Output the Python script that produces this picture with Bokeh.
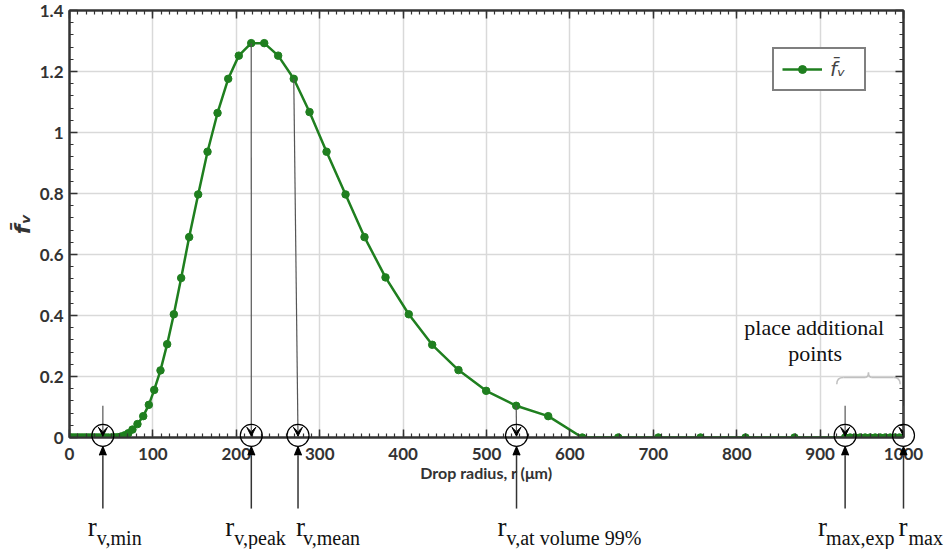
import numpy as np
from bokeh.plotting import figure
from bokeh.core.properties import value
from bokeh.models import (Label, Arrow, VeeHead, SingleIntervalTicker,
                          LinearAxis, NumeralTickFormatter, Legend, LegendItem, Range1d,
                          CustomJSTickFormatter)
from bokeh.embed import file_html
from bokeh.resources import INLINE

# ---------------- data ----------------
radius = [0.5, 2.5, 5, 7.5, 10, 12.5, 15, 17.5, 20, 22.5, 25, 27.5, 30, 32.5, 35, 37.5,
          40.5, 43.5, 46.5, 50, 53.5, 57.5, 61.5, 66, 70.5, 75.5, 81.5, 88.4, 95.1, 101.6,
          109.1, 117.1, 125.1, 133.9, 143.5, 154.3, 165.5, 177.5, 190.3, 203.0, 217.9,
          233.5, 250.2, 268.9, 287.8, 308.2, 331.0, 353.7, 378.9, 406.8, 434.9, 466.4,
          499.6, 535.6, 574.0, 614.8, 658, 706, 756.6, 810.6, 869.3,
          930, 936, 942, 948, 954, 960, 966, 972, 978, 984, 990, 995, 1000]
fv = [0, 0, 0, 0, 0, 0, 0, 0, 0, 0, 0, 0, 0, 0, 0, 0,
      0, 0, 0, 0, 0.0005, 0.001, 0.003, 0.007, 0.014, 0.026, 0.044, 0.070, 0.107, 0.156,
      0.220, 0.306, 0.404, 0.523, 0.657, 0.797, 0.937, 1.064, 1.176, 1.252, 1.293,
      1.293, 1.252, 1.176, 1.067, 0.937, 0.797, 0.657, 0.525, 0.404, 0.304, 0.221,
      0.153, 0.104, 0.070, 0, 0, 0, 0, 0, 0,
      0, 0, 0, 0, 0, 0, 0, 0, 0, 0, 0, 0, 0]

# characteristic radii marked on the axis
marker_sub = ["v,min", "v,peak", "v,mean", "v,at volume 99%", "max,exp", "max"]
marker_r = [40, 218, 274, 536, 930, 1000]
drop_from_r = [40, 217.9, 268.9, 535.6, 930, 1000]
drop_from_f = [0.104, 1.293, 1.176, 0.104, 0.104, 0.104]
r_dx = [-15, -26, -2, -19, -27, -5]
sub_dx = [-6, -17, 5, -10, -19, 5]

note_lines = ["place additional", "points"]

GREEN = "#1f7f1f"
AX = "#333333"
N = len(marker_r)

p = figure(frame_width=834, frame_height=427, output_backend="svg", toolbar_location=None,
           x_range=Range1d(0, 1000), y_range=Range1d(0, 1.4 + 1e-9),
           min_border_left=69, min_border_right=42, min_border_top=10, min_border_bottom=112,
           background_fill_color="white", border_fill_color="white")
p.outline_line_color = AX
p.outline_line_width = 2

xt = SingleIntervalTicker(interval=100, num_minor_ticks=10)
yt = SingleIntervalTicker(interval=0.2, num_minor_ticks=5)
p.xaxis.ticker = xt
p.yaxis.ticker = yt
p.yaxis.formatter = NumeralTickFormatter(format="0.[0]")
p.xgrid.ticker = xt
p.ygrid.ticker = yt
for g in (p.xgrid, p.ygrid):
    g.grid_line_color = "#d9d9d9"
    g.grid_line_width = 1.5

def style_axis(ax):
    ax.axis_line_color = AX
    ax.axis_line_width = 2
    ax.major_tick_in = 8
    ax.major_tick_out = 0
    ax.minor_tick_in = 4
    ax.minor_tick_out = 0
    ax.major_tick_line_color = AX
    ax.minor_tick_line_color = AX
    ax.major_tick_line_width = 1.5
    ax.minor_tick_line_width = 1.2

for ax in (p.xaxis[0], p.yaxis[0]):
    style_axis(ax)
    ax.major_label_text_font = "Lato"
    ax.major_label_text_font_style = "bold"
    ax.major_label_text_font_size = "17px"
    ax.major_label_text_color = "#333333"

p.xaxis.major_label_standoff = 10
p.yaxis.major_label_standoff = 6
p.xaxis.axis_label = "Drop radius, r (\u03bcm)"
p.xaxis.axis_label_text_font = "Lato"
p.xaxis.axis_label_text_font_style = "bold"
p.xaxis.axis_label_text_font_size = "16px"
p.xaxis.axis_label_standoff = 0
p.xaxis.axis_label_text_color = "#333333"
p.yaxis.axis_label = "f\u0304\u1d65"
p.yaxis.axis_label_text_font = "DejaVu Sans"
p.yaxis.axis_label_text_font_style = "bold italic"
p.yaxis.axis_label_text_font_size = "22px"
p.yaxis.axis_label_standoff = 2
p.yaxis.axis_label_text_color = "#333333"

blank = CustomJSTickFormatter(code="return ''")
top_ax = LinearAxis(ticker=xt, formatter=blank)
right_ax = LinearAxis(ticker=yt, formatter=blank)
for ax in (top_ax, right_ax):
    style_axis(ax)
    ax.major_label_standoff = 0
p.add_layout(top_ax, "above")
p.add_layout(right_ax, "right")

# ---------------- data series ----------------
ln = p.line(radius, fv, line_color=GREEN, line_width=2.5)
sc = p.scatter(radius, fv, size=7.5, fill_color=GREEN, line_color=GREEN)

legend = Legend(items=[LegendItem(label="f\u0304\u1d65", renderers=[ln, sc])],
                location="top_right", margin=37, padding=8, spacing=0,
                glyph_width=40, glyph_height=20, label_standoff=8, label_width=26,
                border_line_color="black", border_line_width=2,
                label_text_font="DejaVu Sans", label_text_font_style="italic",
                label_text_font_size="20px", background_fill_alpha=1)
p.add_layout(legend)

# ---------------- annotations ----------------
# lines from above into the circles
for i, r0 in enumerate(marker_r):
    p.add_layout(Arrow(x_start=drop_from_r[i], y_start=drop_from_f[i], x_end=r0, y_end=0.004,
                       line_color="#555555", line_width=1.2,
                       end=VeeHead(size=9, fill_color="black", line_color="black")))

# circles on the axis (drawn unclipped at overlay level)
p.scatter(x=marker_r, y=[0.007] * N, marker="circle", size=22, fill_alpha=0,
          line_color="black", line_width=1.2, level="overlay")

# arrows from the labels below the axis
tip, base, hw = -0.030, -0.058, 4.2
p.segment(x0=marker_r, y0=[-0.233] * N, x1=marker_r, y1=[base] * N,
          line_color="#333333", line_width=1.5, level="overlay")
for r0 in marker_r:
    p.varea(x=[r0 - hw, r0, r0 + hw], y1=[base] * 3, y2=[base, tip, base],
            fill_color="black", level="overlay")
p.segment(x0=[r - hw for r in marker_r] + [r + hw for r in marker_r], y0=[base] * (2 * N),
          x1=marker_r * 2, y1=[tip] * (2 * N), line_color="black", line_width=1.2,
          level="overlay")

p.text(x=marker_r, y=[-0.295] * N, text=["r"] * N, x_offset=r_dx,
       text_font=value("Liberation Serif"), text_font_size="27px", text_color="#111111",
       text_baseline="alphabetic", level="overlay")
p.text(x=marker_r, y=[-0.331] * N, text=marker_sub, x_offset=sub_dx,
       text_font=value("Liberation Serif"), text_font_size="20px", text_color="#111111",
       text_baseline="alphabetic", level="overlay")

# brace over the additional points
bx0 = marker_r[4] - 10
bx1 = marker_r[5] - 4
bxm = (bx0 + bx1) / 2
y_lo, y_mid, y_top = 0.175, 0.197, 0.213
brace_col = "#c0c0c0"
p.quadratic(x0=[bx0, bxm - 4, bxm, bx1 - 8], y0=[y_lo, y_mid, y_top, y_mid],
            x1=[bx0 + 8, bxm, bxm + 4, bx1], y1=[y_mid, y_top, y_mid, y_lo],
            cx=[bx0, bxm, bxm, bx1], cy=[y_mid, y_mid, y_mid, y_mid],
            line_color=brace_col, line_width=1.5)
p.multi_line(xs=[[bx0 + 8, bxm - 4], [bxm + 4, bx1 - 8]], ys=[[y_mid, y_mid], [y_mid, y_mid]],
             line_color=brace_col, line_width=1.5)

p.add_layout(Label(x=893, y=0.362, text=note_lines[0], text_align="center",
                   text_font="Liberation Serif", text_font_size="22px", text_color="#111111",
                   text_baseline="alphabetic"))
p.add_layout(Label(x=894, y=0.274, text=note_lines[1], text_align="center",
                   text_font="Liberation Serif", text_font_size="22px", text_color="#111111",
                   text_baseline="alphabetic"))

open("out.html", "w").write(file_html(p, INLINE))
